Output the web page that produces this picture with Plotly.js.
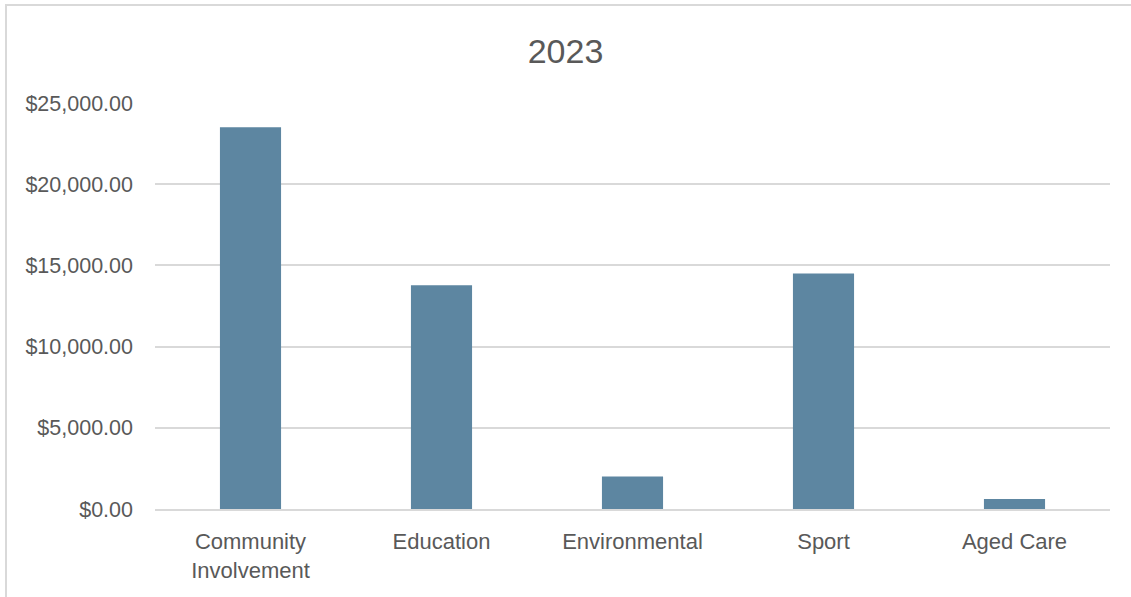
<!DOCTYPE html>
<html>
<head>
<meta charset="utf-8">
<script src="https://cdn.plot.ly/plotly-3.0.1.min.js"></script>
<style>
html,body{margin:0;padding:0;background:#fff;overflow:hidden;}
#frame{position:absolute;left:5px;top:4px;width:1140px;height:620px;border:2px solid #D9D9D9;box-sizing:border-box;}
#chart{position:absolute;left:0;top:0;width:1131px;height:597px;}
</style>
</head>
<body>
<div id="frame"></div>
<div id="chart"></div>
<script>
var categories = ["Community<br>Involvement", "Education", "Environmental", "Sport", "Aged Care"];
var amounts = [23500, 13780, 2000, 14500, 620];
var tickValues = [0, 5000, 10000, 15000, 20000, 25000];
var tickLabels = ["$0.00", "$5,000.00", "$10,000.00", "$15,000.00", "$20,000.00", "$25,000.00"];
var chartTitle = "2023";

var trace = {
  type: "bar",
  x: categories,
  y: amounts,
  marker: {color: "#5D86A1", line: {width: 0}},
  width: 0.32,
  hoverinfo: "none"
};

var layout = {
  width: 1131,
  height: 597,
  paper_bgcolor: "rgba(0,0,0,0)",
  plot_bgcolor: "rgba(0,0,0,0)",
  margin: {l: 155, r: 21, t: 103, b: 88},
  font: {family: "Liberation Sans, Arial, sans-serif", color: "#595959", size: 21},
  title: {text: chartTitle, font: {size: 34, color: "#595959"}, x: 0.5, xanchor: "center", y: 0.915, yanchor: "middle"},
  showlegend: false,
  xaxis: {
    type: "category",
    showgrid: false,
    showline: true,
    linecolor: "#D9D9D9",
    linewidth: 2,
    ticks: "",
    tickfont: {size: 22, color: "#595959"},
    ticklabelstandoff: 12,
    fixedrange: true
  },
  yaxis: {
    range: [0, 25000],
    tickvals: tickValues,
    ticktext: tickLabels,
    showgrid: true,
    gridcolor: "#D9D9D9",
    gridwidth: 2,
    zeroline: false,
    showline: false,
    ticks: "",
    tickfont: {size: 21.5, color: "#595959"},
    ticklabelstandoff: 21,
    fixedrange: true
  }
};

Plotly.newPlot("chart", [trace], layout, {displayModeBar: false, staticPlot: true});
</script>
</body>
</html>
